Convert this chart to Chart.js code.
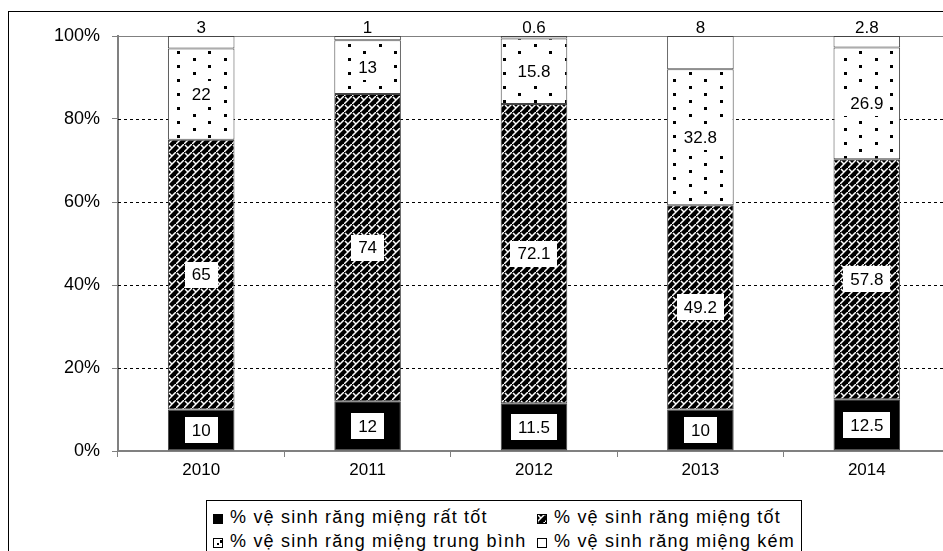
<!DOCTYPE html>
<html lang="vi">
<head>
<meta charset="UTF-8">
<title>Vệ sinh răng miệng 2010-2014</title>
<style>
  html, body { margin: 0; padding: 0; background: #fff; overflow: hidden; }
  body { width: 943px; height: 551px; position: relative; font-family: Arial, "Liberation Sans", sans-serif; }
  #wrap { position: absolute; left: 0; top: 0; width: 960px; height: 551px; }
  #legend {
    position: absolute; left: 206px; top: 500px; width: 594px; height: 70px;
    border: 1px solid #000; background: #fff; font-size: 18px; letter-spacing: 1.2px; color: #000;
  }
  .item { position: absolute; white-space: nowrap; line-height: 20px; }
  .item canvas { vertical-align: -1px; margin-right: 7px; }
</style>
<script src="https://cdn.jsdelivr.net/npm/chart.js"></script>
</head>
<body>
<div id="wrap"><canvas id="chart" width="960" height="551"></canvas></div>
<div id="legend"></div>

<script>
// data
const years = ['2010', '2011', '2012', '2013', '2014'];
const rat_tot = [10, 12, 11.5, 10, 12.5];
const tot = [65, 74, 72.1, 49.2, 57.8];
const trung_binh = [22, 13, 15.8, 32.8, 26.9];
const kem = [3, 1, 0.6, 8, 2.8];
const seriesNames = [
  '% vệ sinh răng miệng rất tốt',
  '% vệ sinh răng miệng tốt',
  '% vệ sinh răng miệng trung bình',
  '% vệ sinh răng miệng kém'
];
const yTicks = [0, 20, 40, 60, 80, 100];

const FONT = 'Arial, "Liberation Sans", sans-serif';

// patterns
function hatchPattern() {
  const c = document.createElement('canvas');
  c.width = 8; c.height = 8;
  const g = c.getContext('2d');
  g.fillStyle = '#000';
  g.fillRect(0, 0, 8, 8);
  g.strokeStyle = '#fff';
  g.lineWidth = 1.5;
  g.beginPath();
  g.moveTo(0, 8); g.lineTo(8, 0);
  g.moveTo(1, 1); g.lineTo(4, 4);
  g.stroke();
  return g.createPattern(c, 'repeat');
}
function dotPattern() {
  const c = document.createElement('canvas');
  c.width = 31; c.height = 14;
  const g = c.getContext('2d');
  g.fillStyle = '#fff';
  g.fillRect(0, 0, 31, 14);
  g.fillStyle = '#000';
  g.fillRect(7, 2, 3, 3);
  g.fillRect(22, 9, 3, 3);
  return g.createPattern(c, 'repeat');
}

const fills = ['#000', hatchPattern(), dotPattern(), '#fff'];
const seriesData = [rat_tot, tot, trung_binh, kem];

const frame = {
  id: 'frame',
  beforeDraw(chart) {
    const ctx = chart.ctx;
    ctx.save();
    ctx.fillStyle = '#fff';
    ctx.fillRect(0, 0, chart.width, chart.height);
    ctx.strokeStyle = '#000';
    ctx.lineWidth = 1;
    ctx.strokeRect(8.5, 11.5, 2000, 2000);
    ctx.restore();
  },
  beforeDatasetsDraw(chart) {
    const { ctx, chartArea, scales } = chart;
    ctx.save();
    yTicks.forEach(v => {
      if (v === 0) return;
      const y = Math.round(scales.y.getPixelForValue(v)) + 0.5;
      ctx.strokeStyle = v === 100 ? '#808080' : '#000';
      ctx.setLineDash(v === 100 ? [] : [3, 3]);
      ctx.lineWidth = 1;
      ctx.beginPath();
      ctx.moveTo(chartArea.left, y);
      ctx.lineTo(chartArea.right, y);
      ctx.stroke();
    });
    ctx.restore();
  }
};

const valueLabels = {
  id: 'valueLabels',
  afterDatasetsDraw(chart) {
    const ctx = chart.ctx;
    ctx.save();
    ctx.font = '17px ' + FONT;
    ctx.textAlign = 'center';
    ctx.textBaseline = 'middle';
    chart.data.datasets.forEach((ds, di) => {
      const meta = chart.getDatasetMeta(di);
      meta.data.forEach((bar, i) => {
        const txt = String(ds.data[i]);
        if (di === 3) {
          ctx.fillStyle = '#000';
          ctx.fillText(txt, bar.x, bar.y - 8);
          return;
        }
        const cy = (bar.y + bar.base) / 2;
        const w = ctx.measureText(txt).width + 14;
        const h = 26;
        ctx.fillStyle = '#fff';
        ctx.fillRect(Math.round(bar.x - w / 2), Math.round(cy - h / 2), Math.round(w), h);
        ctx.fillStyle = '#000';
        ctx.fillText(txt, bar.x, cy + 1);
      });
    });
    ctx.restore();
  }
};

new Chart(document.getElementById('chart'), {
  type: 'bar',
  data: {
    labels: years,
    datasets: seriesData.map((d, i) => ({
      label: seriesNames[i],
      data: d,
      backgroundColor: fills[i],
      borderColor: '#444',
      borderWidth: 1,
      borderSkipped: false,
      categoryPercentage: 0.4,
      barPercentage: 1
    }))
  },
  options: {
    responsive: false,
    animation: false,
    events: [],
    layout: { padding: { left: 0, top: 36, right: 10, bottom: 0 } },
    plugins: { legend: { display: false }, tooltip: { enabled: false } },
    scales: {
      x: {
        stacked: true,
        grid: { drawOnChartArea: false, offset: true, tickLength: 6, color: '#808080', lineWidth: 1 },
        border: { color: '#808080', width: 2 },
        ticks: { color: '#000', font: { family: FONT, size: 17 }, padding: 3 },
        afterFit(scale) { scale.height = 100; }
      },
      y: {
        stacked: true,
        min: 0, max: 100,
        afterBuildTicks(scale) { scale.ticks = yTicks.map(v => ({ value: v })); },
        grid: { drawOnChartArea: false, tickLength: 6, color: '#808080', lineWidth: 1 },
        border: { color: '#808080', width: 2 },
        ticks: { color: '#000', font: { family: FONT, size: 18 }, padding: 12, callback: v => v + '%' },
        afterFit(scale) { scale.width = 118; }
      }
    }
  },
  plugins: [frame, valueLabels]
});

// legend, 2 x 2, drawn from the series names and fills
const legend = document.getElementById('legend');
const spots = [[6, 6], [330, 6], [6, 30], [330, 30]];
seriesNames.forEach((name, i) => {
  const item = document.createElement('div');
  item.className = 'item';
  item.style.left = spots[i][0] + 'px';
  item.style.top = spots[i][1] + 'px';
  const sw = document.createElement('canvas');
  sw.width = 10; sw.height = 10;
  const g = sw.getContext('2d');
  g.fillStyle = fills[i];
  g.fillRect(0, 0, 10, 10);
  if (i === 2) { g.fillStyle = '#000'; g.fillRect(4, 5, 2, 2); }
  g.strokeStyle = '#000';
  g.strokeRect(0.5, 0.5, 9, 9);
  item.appendChild(sw);
  item.appendChild(document.createTextNode(name));
  legend.appendChild(item);
});
</script>
</body>
</html>
